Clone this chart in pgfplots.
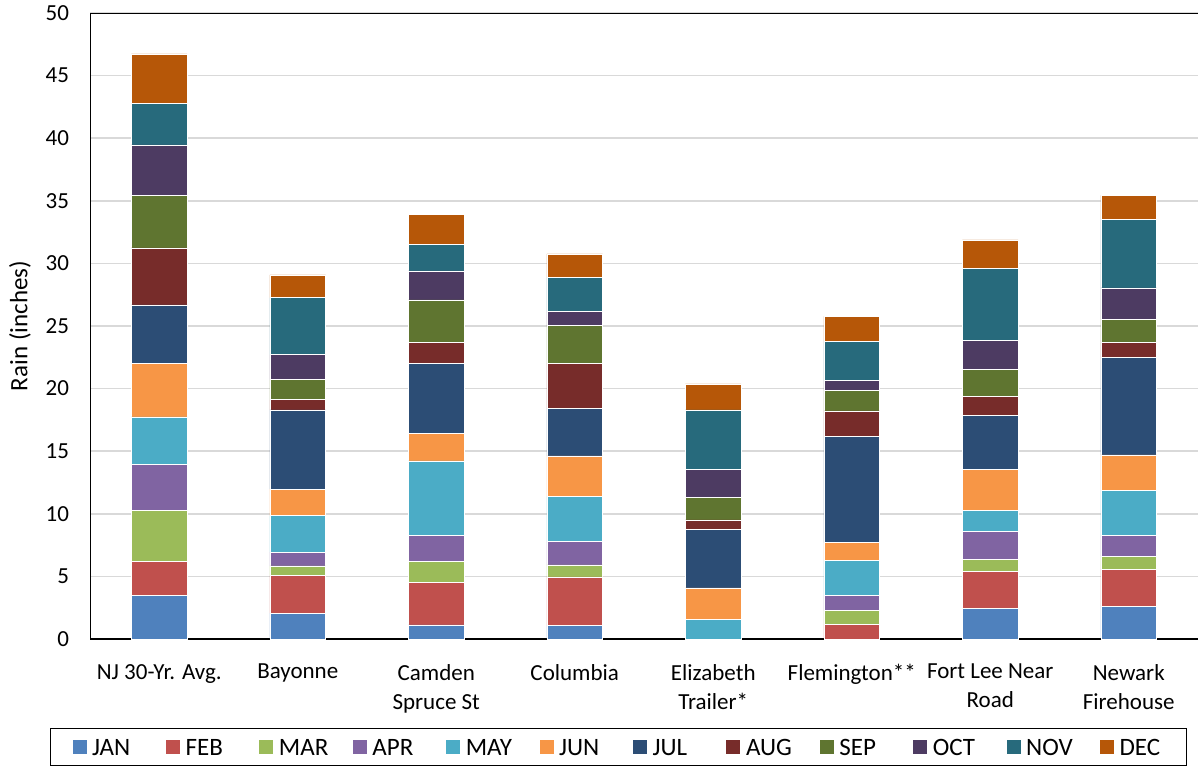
\documentclass[border=0pt]{standalone}
\usepackage{fontspec}
\setmainfont{Carlito}
\usepackage{pgfplots}
\usepackage{pgfplotstable}
\pgfplotsset{compat=1.18}

\definecolor{cJAN}{HTML}{4F81BD}
\definecolor{cFEB}{HTML}{C0504D}
\definecolor{cMAR}{HTML}{9BBB59}
\definecolor{cAPR}{HTML}{8064A2}
\definecolor{cMAY}{HTML}{4BACC6}
\definecolor{cJUN}{HTML}{F79646}
\definecolor{cJUL}{HTML}{2C4D75}
\definecolor{cAUG}{HTML}{772C2A}
\definecolor{cSEP}{HTML}{5F7530}
\definecolor{cOCT}{HTML}{4D3B62}
\definecolor{cNOV}{HTML}{276A7C}
\definecolor{cDEC}{HTML}{B65708}
\definecolor{gridgrey}{HTML}{D9D9D9}

% monthly rain (inches) per site
\pgfplotstableread{
x JAN FEB MAR APR MAY JUN JUL AUG SEP OCT NOV DEC
0 3.51 2.70 4.09 3.67 3.77 4.28 4.67 4.55 4.22 4.01 3.32 3.95
1 2.07 3.00 0.77 1.09 2.92 2.13 6.32 0.82 1.60 1.99 4.56 1.81
2 1.12 3.39 1.70 2.08 5.94 2.21 5.55 1.72 3.38 2.31 2.12 2.39
3 1.06 3.90 0.96 1.86 3.61 3.24 3.82 3.59 2.98 1.12 2.75 1.87
4 0    0    0    0    1.59 2.50 4.67 0.75 1.80 2.24 4.75 2.07
5 0    1.17 1.09 1.22 2.79 1.43 8.48 2.04 1.62 0.80 3.11 2.01
6 2.44 2.95 0.98 2.20 1.73 3.27 4.28 1.51 2.18 2.28 5.77 2.28
7 2.60 2.98 1.03 1.64 3.62 2.84 7.76 1.20 1.88 2.50 5.46 1.92
}\raindata

\newcommand\legbox[1]{\makebox[33.9pt][l]{#1}}

\begin{document}
\begin{tikzpicture}
\useasboundingbox (-45pt,-63.85pt) rectangle (554pt,319.5pt);
\begin{axis}[
    scale only axis,
    width=554pt, height=313pt,
    ybar stacked,
    bar width=27.85pt,
    xmin=-0.5, xmax=7.5,
    ymin=0, ymax=50,
    enlargelimits=false,
    ytick={0,5,...,50},
    xtick={0,...,7},
    xticklabels={NJ 30-Yr. Avg., Bayonne, Camden\\Spruce St, Columbia,
        Elizabeth\\Trailer*, Flemington**, Fort Lee Near\\Road, Newark\\Firehouse},
    major tick length=0pt,
    ymajorgrids,
    grid style={gridgrey, line width=0.75pt},
    axis line style={draw=none},
    /pgf/number format/assume math mode=true,
    yticklabel style={font=\fontsize{11.5}{14}\selectfont, xshift=-7pt},
    xticklabel style={font=\fontsize{11.5}{14.5}\selectfont, align=center, yshift=-9pt},
    ylabel={Rain (inches)},
    ylabel style={font=\fontsize{12.5}{15}\selectfont, at={(axis description cs:-0.0632,0.5)}, anchor=center},
    legend columns=12,
    legend image code/.code={\fill[#1] (0pt,-3.75pt) rectangle (7.5pt,3.75pt);},
    legend style={
        at={(axis description cs:-0.0361,-0.1728)}, anchor=west,
        draw=black, line width=0.6pt,
        inner xsep=10.5pt, inner ysep=3.15pt,
        font=\fontsize{12.5}{15}\selectfont,
        nodes={inner xsep=2.5pt, inner ysep=2pt, text height=8.2pt, text depth=0pt},
        /tikz/every even column/.append style={column sep=0pt},
    },
    every axis plot/.append style={draw=white, line width=0.3pt},
]
\addplot[fill=cJAN] table[x=x, y=JAN] {\raindata}; \addlegendentry{\legbox{JAN}}
\addplot[fill=cFEB] table[x=x, y=FEB] {\raindata}; \addlegendentry{\legbox{FEB}}
\addplot[fill=cMAR] table[x=x, y=MAR] {\raindata}; \addlegendentry{\legbox{MAR}}
\addplot[fill=cAPR] table[x=x, y=APR] {\raindata}; \addlegendentry{\legbox{APR}}
\addplot[fill=cMAY] table[x=x, y=MAY] {\raindata}; \addlegendentry{\legbox{MAY}}
\addplot[fill=cJUN] table[x=x, y=JUN] {\raindata}; \addlegendentry{\legbox{JUN}}
\addplot[fill=cJUL] table[x=x, y=JUL] {\raindata}; \addlegendentry{\legbox{JUL}}
\addplot[fill=cAUG] table[x=x, y=AUG] {\raindata}; \addlegendentry{\legbox{AUG}}
\addplot[fill=cSEP] table[x=x, y=SEP] {\raindata}; \addlegendentry{\legbox{SEP}}
\addplot[fill=cOCT] table[x=x, y=OCT] {\raindata}; \addlegendentry{\legbox{OCT}}
\addplot[fill=cNOV] table[x=x, y=NOV] {\raindata}; \addlegendentry{\legbox{NOV}}
\addplot[fill=cDEC] table[x=x, y=DEC] {\raindata}; \addlegendentry{DEC}
\draw[black, line width=0.9pt] (rel axis cs:1,1) -- (rel axis cs:0,1) -- (rel axis cs:0,0) -- (rel axis cs:1,0);
\end{axis}
\end{tikzpicture}
\end{document}
